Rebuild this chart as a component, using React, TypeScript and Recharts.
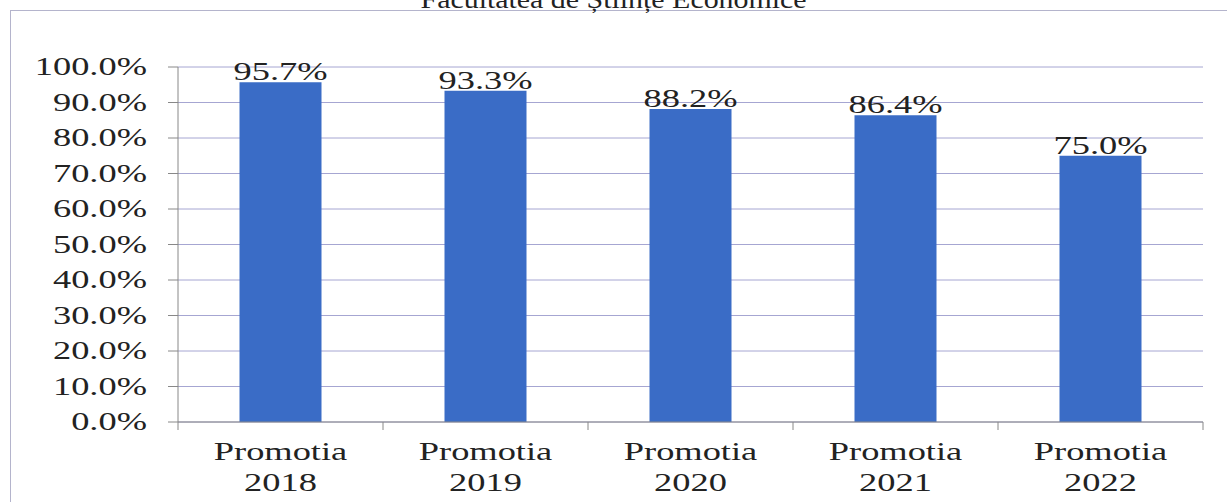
import React from 'react';
import { BarChart, Bar, XAxis, YAxis, CartesianGrid, LabelList } from 'recharts';

const categories = ['Promotia 2018', 'Promotia 2019', 'Promotia 2020', 'Promotia 2021', 'Promotia 2022'];
const rates = [0.957, 0.933, 0.882, 0.864, 0.75];
const yTicks = [0, 0.1, 0.2, 0.3, 0.4, 0.5, 0.6, 0.7, 0.8, 0.9, 1.0];
const title = 'Facultatea de Științe Economice';

const data = categories.map((name, i) => ({ name, rate: rates[i] }));

const FONT = '"Liberation Serif", "Times New Roman", serif';
const STRETCH = 1.4; // the scanned source is widened horizontally
const pct = (v: number) => `${(v * 100).toFixed(1)}%`;

const CategoryTick = (props: any) => {
  const { x, y, payload, index } = props;
  const [word, year] = String(payload.value).split(' ');
  const half = payload.offset ?? 0;
  return (
    <g>
      {index === 0 && <line x1={x - half} y1={y - 8} x2={x - half} y2={y} stroke="#888" />}
      <line x1={x + half} y1={y - 8} x2={x + half} y2={y} stroke="#888" />
      <g transform={`translate(${x},${y}) scale(${STRETCH},1)`}>
        <text x={0} y={0} textAnchor="middle" fontFamily={FONT} fontSize={26} fill="#222">
          <tspan x={0} dy={30}>{word}</tspan>
          <tspan x={0} dy={31}>{year}</tspan>
        </text>
      </g>
    </g>
  );
};

const ValueTick = (props: any) => {
  const { x, y, payload } = props;
  return (
    <g transform={`translate(${x},${y}) scale(${STRETCH},1)`}>
      <text x={0} y={0} dy={8} textAnchor="end" fontFamily={FONT} fontSize={26} fill="#222">
        {pct(payload.value)}
      </text>
    </g>
  );
};

const BarValue = (props: any) => {
  const { x, y, width, value } = props;
  const cx = Number(x) + Number(width) / 2;
  return (
    <g transform={`translate(${cx},${Number(y) - 2}) scale(${STRETCH},1)`}>
      <text x={0} y={0} textAnchor="middle" fontFamily={FONT} fontSize={26} fill="#222">
        {pct(Number(value))}
      </text>
    </g>
  );
};

export default function App() {
  return (
    <div style={{ position: 'absolute', left: 0, top: 0, width: 1227, height: 502, background: '#fff', overflow: 'hidden' }}>
      <div style={{ position: 'absolute', left: 10, top: 10, width: 1240, height: 520, border: '1px solid #b4b4cc' }} />
      <div
        style={{
          position: 'absolute',
          left: 0,
          width: 1227,
          top: -15,
          textAlign: 'center',
          fontFamily: FONT,
          fontSize: 26,
          color: '#222',
          lineHeight: '30px',
          transform: 'scaleX(1.15)',
          transformOrigin: '613px 0',
        }}
      >
        {title}
      </div>
      <div style={{ position: 'absolute', left: 0, top: 0 }}>
        <BarChart width={1227} height={502} data={data} margin={{ top: 67, right: 24, bottom: 0, left: 0 }} barCategoryGap="30%">
          <CartesianGrid vertical={false} stroke="#a6a6d2" />
          <XAxis
            dataKey="name"
            height={80}
            interval={0}
            tickLine={false}
            axisLine={{ stroke: '#888' }}
            tick={<CategoryTick />}
          />
          <YAxis
            width={178}
            domain={[0, 1]}
            ticks={yTicks}
            tickSize={10}
            tickMargin={21}
            axisLine={{ stroke: '#888' }}
            tickLine={{ stroke: '#888' }}
            tick={<ValueTick />}
          />
          <Bar dataKey="rate" fill="#3a6cc6" isAnimationActive={false}>
            <LabelList dataKey="rate" content={<BarValue />} />
          </Bar>
        </BarChart>
      </div>
    </div>
  );
}
